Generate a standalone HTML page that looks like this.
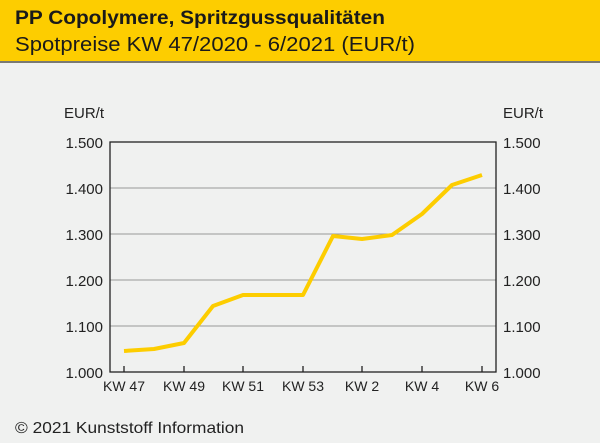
<!DOCTYPE html>
<html><head><meta charset="utf-8"><style>
html,body{margin:0;padding:0;width:600px;height:443px;overflow:hidden;background:#f0f1f0;font-family:"Liberation Sans","DejaVu Sans",sans-serif;}
.hdr{position:absolute;left:0;top:0;width:600px;height:61px;background:#fdcd00;border-bottom:2px solid #7a7a72;}
</style></head><body>
<div class="hdr"></div>
<svg width="600" height="443" style="position:absolute;left:0;top:0" font-family="Liberation Sans, DejaVu Sans, sans-serif" font-size="15" fill="#222">
<text x="15" y="24" font-size="19" font-weight="bold" fill="#1a1a1a" textLength="370" lengthAdjust="spacingAndGlyphs">PP Copolymere, Spritzgussqualitäten</text>
<text x="15" y="51" font-size="20" fill="#1a1a1a" textLength="400" lengthAdjust="spacingAndGlyphs">Spotpreise KW 47/2020 - 6/2021 (EUR/t)</text>
<g stroke="#999" stroke-width="1">
<line x1="110" y1="188" x2="496" y2="188"/><line x1="110" y1="234" x2="496" y2="234"/><line x1="110" y1="280" x2="496" y2="280"/><line x1="110" y1="326" x2="496" y2="326"/>
</g>
<rect x="110" y="142" width="386" height="230" fill="none" stroke="#222" stroke-width="1.3"/>
<g stroke="#222" stroke-width="1.3">
<line x1="124" y1="366" x2="124" y2="372"/><line x1="184" y1="366" x2="184" y2="372"/><line x1="243" y1="366" x2="243" y2="372"/><line x1="303" y1="366" x2="303" y2="372"/><line x1="362" y1="366" x2="362" y2="372"/><line x1="422" y1="366" x2="422" y2="372"/><line x1="482" y1="366" x2="482" y2="372"/>
</g>
<polyline fill="none" stroke="#fdcd00" stroke-width="4" stroke-linejoin="round" points="124,351 154,349 184,343 213,306 243,295 273,295 303,295 333,236 362,239 392,235 422,214 452,185 482,175"/>
<g text-anchor="end"><text x="104" y="118">EUR/t</text>
<text x="103" y="148">1.500</text><text x="103" y="194">1.400</text><text x="103" y="240">1.300</text><text x="103" y="286">1.200</text><text x="103" y="332">1.100</text><text x="103" y="378">1.000</text></g>
<g text-anchor="start"><text x="503" y="118">EUR/t</text>
<text x="503" y="148">1.500</text><text x="503" y="194">1.400</text><text x="503" y="240">1.300</text><text x="503" y="286">1.200</text><text x="503" y="332">1.100</text><text x="503" y="378">1.000</text></g>
<g text-anchor="middle" font-size="14"><text x="124" y="391">KW 47</text><text x="184" y="391">KW 49</text><text x="243" y="391">KW 51</text><text x="303" y="391">KW 53</text><text x="362" y="391">KW 2</text><text x="422" y="391">KW 4</text><text x="482" y="391">KW 6</text></g>
<text x="15" y="433" font-size="16" textLength="229" lengthAdjust="spacingAndGlyphs">© 2021 Kunststoff Information</text>
</svg>
</body></html>
